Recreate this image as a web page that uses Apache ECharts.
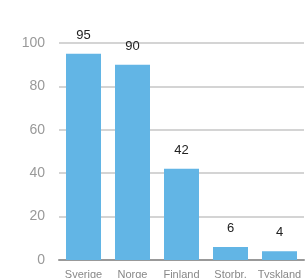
<!DOCTYPE html>
<html>
<head>
<meta charset="utf-8">
<script src="https://cdn.jsdelivr.net/npm/echarts@6/dist/echarts.min.js"></script>
<style>
  html, body { margin: 0; padding: 0; background: #fff; }
  #chart { width: 307px; height: 278px; }
</style>
</head>
<body>
<div id="chart"></div>
<script>
var countries = ['Sverige', 'Norge', 'Finland', 'Storbr.', 'Tyskland'];
var values = [95, 90, 42, 6, 4];
var yTicks = [0, 20, 40, 60, 80, 100];

var myChart = echarts.init(document.getElementById('chart'));
var option = {
    animation: false,
    textStyle: { fontFamily: 'Liberation Sans, Arial, sans-serif' },
    grid: {
        left: 59,
        right: 3,
        top: 43,
        bottom: 18,
        outerBoundsMode: 'none'
    },
    xAxis: {
        type: 'category',
        data: countries,
        axisTick: { show: false },
        axisLine: { lineStyle: { color: '#999', width: 2 } },
        axisLabel: { color: '#888', fontSize: 11, margin: 9, interval: 0 }
    },
    yAxis: {
        type: 'value',
        min: yTicks[0],
        max: yTicks[yTicks.length - 1],
        interval: 20,
        axisLine: { show: false },
        axisTick: { show: false },
        axisLabel: { color: '#999', fontSize: 14, margin: 14 },
        splitLine: { lineStyle: { color: '#d4d4d4', width: 2 } }
    },
    series: [
        {
            name: 'values',
            type: 'bar',
            data: values,
            barWidth: 35,
            itemStyle: { color: '#62B5E5' },
            label: {
                show: true,
                position: 'top',
                distance: 12,
                color: '#222',
                fontSize: 13
            }
        }
    ]
};
myChart.setOption(option);
</script>
</body>
</html>
